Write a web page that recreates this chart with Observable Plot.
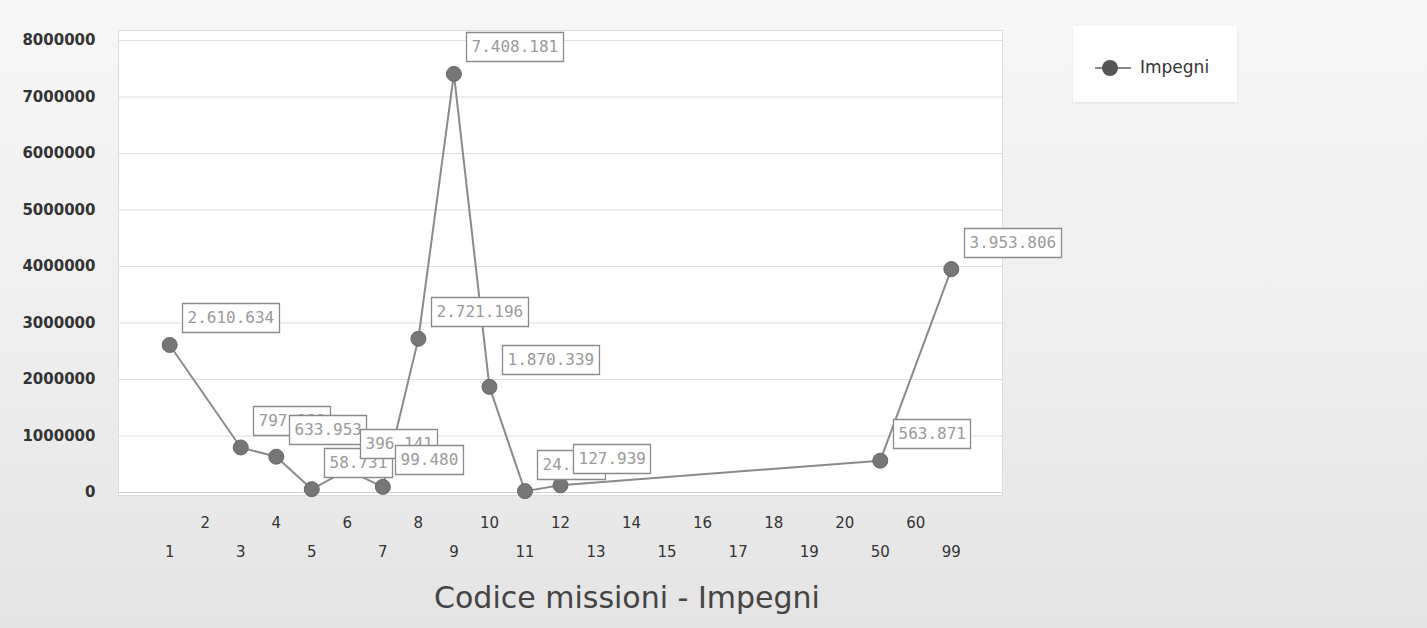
<!DOCTYPE html>
<html>
<head>
<meta charset="utf-8">
<script src="https://cdn.jsdelivr.net/npm/d3@7"></script>
<script src="https://cdn.jsdelivr.net/npm/@observablehq/plot@0.6"></script>
<style>
  html, body { margin: 0; padding: 0; width: 1427px; height: 628px; overflow: hidden; }
  body {
    position: relative;
    font-family: "DejaVu Sans", sans-serif;
    background: linear-gradient(180deg, #f7f7f7 0%, #eeeeee 55%, #e4e4e4 100%);
  }
  #chart { position: absolute; left: 0; top: 0; }
  #chart svg { color: #333; }
  #chart g[aria-label="tip"] { color: #9a9a9a; }
  #title {
    position: absolute; left: 0; width: 1254px; top: 580px;
    text-align: center; font-size: 30px; color: #444;
  }
  #legend {
    position: absolute; left: 1073px; top: 26px; width: 164px; height: 76px;
    background: #fff; box-shadow: 0 1px 2px rgba(0,0,0,0.08);
  }
  #legend svg { position: absolute; left: 20px; top: 32px; }
  #legend span { position: absolute; left: 67px; top: 31px; font-size: 17px; color: #333; }
</style>
</head>
<body>
<div id="chart"></div>
<div id="legend">
  <svg width="40" height="20"><line x1="2" y1="10" x2="38" y2="10" stroke="#888" stroke-width="2"></line><circle cx="17" cy="10" r="8" fill="#555"></circle></svg>
  <span>Impegni</span>
</div>
<div id="title">Codice missioni - Impegni</div>
<script>
// Category codes on the x axis (all labels shown)
const codes = [1, 2, 3, 4, 5, 6, 7, 8, 9, 10, 11, 12, 13, 14, 15, 16, 17, 18, 19, 20, 50, 60, 99];
// Codes that have a value
const missionCodes = [1, 3, 4, 5, 6, 7, 8, 9, 10, 11, 12, 50, 99];
// Impegni values
const impegni = [2610634, 797232, 633953, 58731, 396141, 99480, 2721196, 7408181, 1870339, 24500, 127939, 563871, 3953806];
// Y tick values
const yTicks = [0, 1000000, 2000000, 3000000, 4000000, 5000000, 6000000, 7000000, 8000000];

const data = missionCodes.map((c, i) => ({code: c, value: impegni[i]}));
const itFmt = v => d3.format(",")(v).replace(/,/g, ".");

const topRow = codes.filter((d, i) => i % 2 === 1);
const bottomRow = codes.filter((d, i) => i % 2 === 0);

const chart = Plot.plot({
  width: 1427,
  height: 575,
  marginLeft: 118,
  marginRight: 425,
  marginTop: 40,
  marginBottom: 83,
  style: {background: "transparent", fontFamily: "DejaVu Sans, sans-serif"},
  x: {type: "point", domain: codes, padding: 1.44, round: false, label: null},
  y: {domain: [0, 8000000], label: null},
  marks: [
    Plot.frame({fill: "white", stroke: "#dcdcdc", insetTop: -10, insetBottom: -3}),
    Plot.gridY(yTicks, {stroke: "#dedede", strokeOpacity: 1, strokeWidth: 1.2}),
    Plot.ruleY([0], {stroke: "#cfcfcf"}),
    Plot.axisY(yTicks, {tickSize: 0, tickPadding: 23, fontSize: 15, fontWeight: "bold", tickFormat: d => String(d), label: null}),
    Plot.axisX(topRow, {tickSize: 0, tickPadding: 25, fontSize: 15, label: null}),
    Plot.axisX(bottomRow, {tickSize: 0, tickPadding: 54, fontSize: 15, label: null}),
    Plot.line(data, {x: "code", y: "value", stroke: "#8a8a8a", strokeWidth: 2}),
    Plot.dot(data, {x: "code", y: "value", r: 7.5, fill: "#767676", stroke: "#666", strokeWidth: 1}),
    Plot.tip(data, {
      x: "code", y: "value",
      title: d => itFmt(d.value),
      anchor: "bottom-left", pointerSize: 0, dx: 13, dy: -12,
      fill: "white", stroke: "#8a8a8a", strokeWidth: 1.3, pathFilter: "none",
      monospace: true, fontFamily: "DejaVu Sans Mono, monospace", fontSize: 16,
      textPadding: 5, lineHeight: 1
    })
  ]
});
document.getElementById("chart").appendChild(chart);
</script>
</body>
</html>
